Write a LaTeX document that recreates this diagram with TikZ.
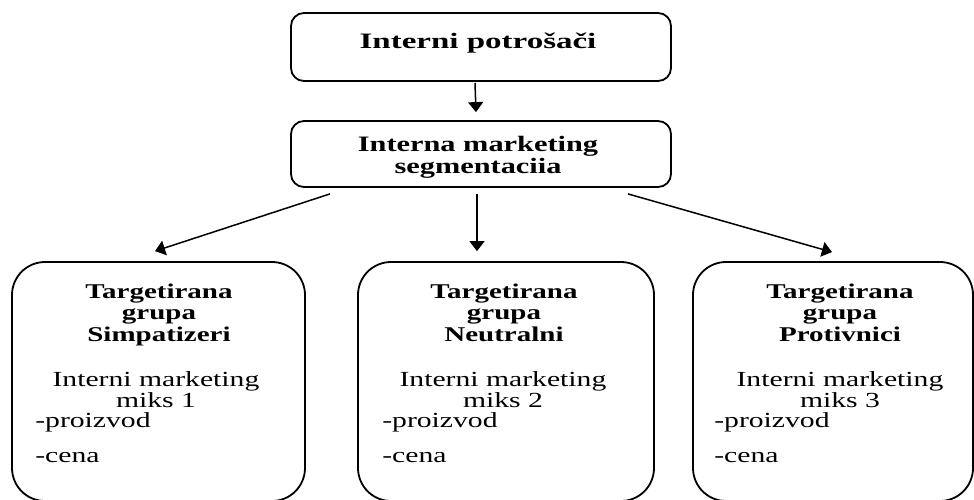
\documentclass[tikz,border=0pt]{standalone}
\usepackage{fontspec}
\setmainfont{Liberation Serif}[FakeStretch=1.38]
\newfontfamily\wideserif{Liberation Serif}[FakeStretch=1.5]
\usetikzlibrary{arrows.meta,calc}

\begin{document}
\begin{tikzpicture}[x=1pt,y=-1pt,
  headbox/.style={draw,line width=1.8pt,rounded corners=13pt,minimum width=380pt,inner sep=0pt},
  groupbox/.style={draw,line width=1.8pt,rounded corners=33pt,inner sep=0pt,minimum height=239pt},
  headtext/.style={font=\fontsize{22}{20}\selectfont\bfseries,align=center,inner sep=0pt,anchor=base},
  titletext/.style={font=\fontsize{21}{21.5}\selectfont\bfseries,align=center,inner sep=0pt,anchor=base},
  mixtext/.style={font=\fontsize{21.5}{20.5}\selectfont,align=center,inner sep=0pt,anchor=base},
  itemtext/.style={font=\fontsize{21.5}{35}\selectfont,align=left,inner sep=0pt,anchor=base west},
  arr/.style={line width=1.5pt,-{Triangle[width=15pt,length=10pt]}}]

\clip (0,0) rectangle (974,499);

% upper chain (multi-line nodes sit on the baseline of their last line)
\node[headbox,minimum height=68pt] (top) at (481,47) {};
\node[headtext,font=\fontsize{22}{20}\selectfont\wideserif\bfseries] (toptext) at (478,48) {Interni potrošači};
\node[headbox,minimum height=66pt] (seg) at (481,154) {};
\node[headtext] (segtext) at (478,173) {Interna marketing\\segmentaciia};

% target groups
\node[groupbox,minimum width=293pt] (g1) at (158.5,381.5) {};
\node[groupbox,minimum width=296pt] (g2) at (506,381.5) {};
\node[groupbox,minimum width=280pt] (g3) at (833,381.5) {};

\node[titletext] (g1title) at (159,341) {Targetirana\\grupa\\Simpatizeri};
\node[titletext] (g2title) at (504,341) {Targetirana\\grupa\\Neutralni};
\node[titletext] (g3title) at (840,341) {Targetirana\\grupa\\Protivnici};

\node[mixtext] (g1mix) at (156,407) {Interni marketing\\miks 1};
\node[mixtext] (g2mix) at (503,407) {Interni marketing\\miks 2};
\node[mixtext] (g3mix) at (840,407) {Interni marketing\\miks 3};

\node[itemtext] (g1items) at ($(g1.west)+(24,80.5)$) {-proizvod\\-cena};
\node[itemtext] (g2items) at ($(g2.west)+(25,80.5)$) {-proizvod\\-cena};
\node[itemtext] (g3items) at ($(g3.west)+(22,80.5)$) {-proizvod\\-cena};

% connector end points
\coordinate (a0s) at ($(top.south)+(-6,1)$);
\coordinate (a0e) at ($(seg.north)+(-5,-8)$);
\coordinate (a1s) at ($(seg.south)+(-151,6)$);
\coordinate (a1e) at ($(g1.north)+(-3.5,-10)$);
\coordinate (a2s) at ($(seg.south)+(-4,6)$);
\coordinate (a2e) at ($(g2.north)+(-29,-10)$);
\coordinate (a3s) at ($(seg.south)+(147,6)$);
\coordinate (a3e) at ($(g3.north)+(-1,-9)$);

\draw[arr] (a0s) -- (a0e);
\draw[arr] (a1s) -- (a1e);
\draw[arr] (a2s) -- (a2e);
\draw[arr] (a3s) -- (a3e);
\end{tikzpicture}
\end{document}
